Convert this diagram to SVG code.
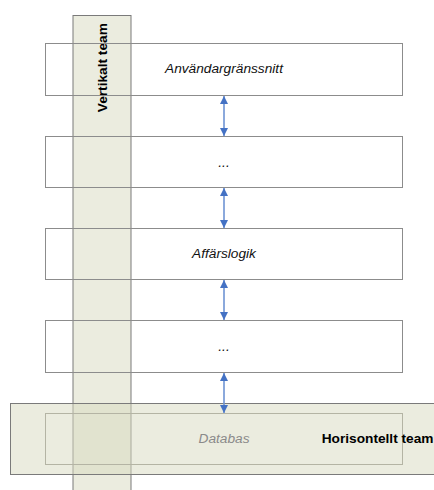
<svg xmlns="http://www.w3.org/2000/svg" width="434" height="490" viewBox="0 0 434 490">
<defs>
<style>
.box{fill:none;stroke:#8c8c8c;stroke-width:1}
.lbl{font-family:"Liberation Sans",Arial,sans-serif;font-size:13.7px;font-style:italic;fill:#111;text-anchor:middle}
.team{font-family:"Liberation Sans",Arial,sans-serif;font-size:13.7px;font-weight:bold;fill:#000}
.band{fill:#d7d9bf;fill-opacity:0.5;stroke:#7a7a7a;stroke-width:1}
.conn{stroke:#6e94d4;stroke-width:1.6;fill:none;marker-start:url(#ah);marker-end:url(#ah)}
</style>
<marker id="ah" viewBox="0 0 10 10" refX="10" refY="5" markerWidth="8" markerHeight="8" markerUnits="userSpaceOnUse" orient="auto-start-reverse">
<path d="M0,0 L10,5 L0,10 Z" fill="#4472c4"/>
</marker>
</defs>
<rect width="434" height="490" fill="#fff"/>
<g id="vertical-team">
<rect class="band" x="73" y="15.5" width="58" height="480"/>
<text class="team" transform="translate(106.5,67.7) rotate(-90)" text-anchor="middle">Vertikalt team</text>
</g>
<g id="horizontal-team">
<rect class="band" x="10.5" y="403.5" width="430" height="71"/>
</g>
<g id="anvandargranssnitt">
<rect class="box" x="45.5" y="43.5" width="357" height="52"/>
<text class="lbl" x="224" y="73.3">Användargränssnitt</text>
</g>
<g id="layer2">
<rect class="box" x="45.5" y="136.5" width="357" height="51"/>
<text class="lbl" x="224" y="166.7">...</text>
</g>
<g id="affarslogik">
<rect class="box" x="45.5" y="228.5" width="357" height="51"/>
<text class="lbl" x="224" y="258.3">Affärslogik</text>
</g>
<g id="layer4">
<rect class="box" x="45.5" y="320.5" width="357" height="52"/>
<text class="lbl" x="224" y="351">...</text>
</g>
<g id="databas">
<rect x="45.5" y="413.5" width="357" height="51" fill="none" stroke="#b4b4a4" stroke-width="1"/>
<text class="lbl" x="224" y="442.7" style="fill:#8a8a8a">Databas</text>
</g>
<text class="team" x="321.7" y="442.7">Horisontellt team</text>
<g id="connectors">
<line class="conn" x1="224" y1="96" x2="224" y2="136"/>
<line class="conn" x1="224" y1="188" x2="224" y2="228"/>
<line class="conn" x1="224" y1="280" x2="224" y2="320"/>
<line class="conn" x1="224" y1="373" x2="224" y2="413"/>
</g>
</svg>
